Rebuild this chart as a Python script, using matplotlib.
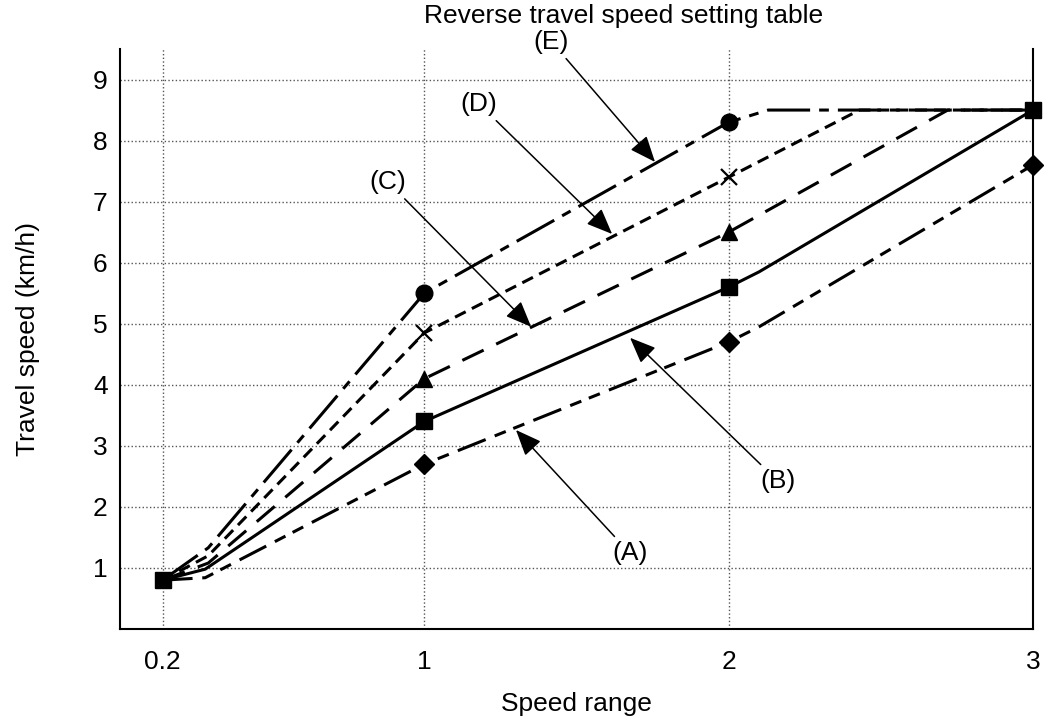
import matplotlib
matplotlib.use('Agg')
from matplotlib import pyplot as plt

plt.rcParams['font.family'] = ['Liberation Sans', 'DejaVu Sans']
plt.rcParams['lines.scale_dashes'] = False

# x axis: speed range ticks
tick_pos = [0.14, 1, 2, 3]
tick_labels = ['0.2', '1', '2', '3']

# line vertices (kinks included)
a_x = [0.14, 0.28, 1, 2, 2.1, 3]
a_y = [0.8, 0.84, 2.7, 4.7, 4.95, 7.6]
b_x = [0.14, 0.28, 1, 2, 2.1, 3]
b_y = [0.8, 0.98, 3.4, 5.6, 5.85, 8.5]
c_x = [0.14, 0.29, 1, 2, 2.72, 3]
c_y = [0.8, 1.08, 4.1, 6.5, 8.5, 8.5]
d_x = [0.14, 0.29, 1, 2, 2.43, 3]
d_y = [0.8, 1.2, 4.85, 7.4, 8.5, 8.5]
e_x = [0.14, 0.29, 1, 2, 2.13, 3]
e_y = [0.8, 1.33, 5.5, 8.3, 8.5, 8.5]

# marker points
a_mx, a_my = [1, 2, 3], [2.7, 4.7, 7.6]
b_mx, b_my = [0.14, 1, 2, 3], [0.8, 3.4, 5.6, 8.5]
c_mx, c_my = [1, 2], [4.1, 6.5]
d_mx, d_my = [1, 2], [4.85, 7.4]
e_mx, e_my = [1, 2], [5.5, 8.3]

fs = 19
fig = plt.figure(figsize=(10.44, 7.2), dpi=100)
ax = fig.add_axes([120 / 1044, 1 - 629 / 720, 913 / 1044, 580 / 720])

lw = 2.2
ax.plot(e_x, e_y, color='black', lw=lw, dashes=(31, 6.5, 7, 6.5))
ax.plot(d_x, d_y, color='black', lw=lw, dashes=(8.6, 5))
ax.plot(c_x, c_y, color='black', lw=lw, dashes=(17, 10))
ax.plot(b_x, b_y, color='black', lw=lw)
ax.plot(a_x, a_y, color='black', lw=lw, dashes=(21.6, 7, 8.6, 5.8, 8.6, 7))

ax.plot(a_mx, a_my, 'D', color='black', ms=10, zorder=5, clip_on=False)
ax.plot(c_mx, c_my, '^', color='black', ms=12, zorder=5, clip_on=False)
ax.plot(d_mx, d_my, 'x', color='black', ms=11, mew=1.6, zorder=5, clip_on=False)
ax.plot(e_mx, e_my, 'o', color='black', ms=12, zorder=5, clip_on=False)
ax.plot(b_mx, b_my, 's', color='black', ms=11.5, zorder=6, clip_on=False)

ax.set_xlim(0, 3)
ax.set_ylim(0, 9.5)
ax.set_xticks(tick_pos)
ax.set_xticklabels(tick_labels)
ax.set_yticks(range(1, 10))
ax.tick_params(length=0, labelsize=fs)
ax.tick_params(axis='x', pad=15)
ax.tick_params(axis='y', pad=9)
ax.grid(True, linestyle=':', color='#555555', lw=1)
ax.spines['top'].set_visible(False)
for s in ['left', 'bottom', 'right']:
    ax.spines[s].set_linewidth(1.5)

# labels with arrows
notes = [
    ('(E)', (1.758, 7.65), (1.418, 9.62)),
    ('(D)', (1.617, 6.47), (1.180, 8.60)),
    ('(C)', (1.351, 4.95), (0.881, 7.32)),
    ('(B)', (1.676, 4.77), (2.162, 2.42)),
    ('(A)', (1.301, 3.26), (1.676, 1.24)),
]
for lab, tip, pos in notes:
    ax.annotate(lab, xy=tip, xytext=pos, ha='center', va='center', fontsize=fs,
                annotation_clip=False,
                arrowprops=dict(arrowstyle='-|>,head_length=0.8,head_width=0.33',
                                color='black', lw=1.1, shrinkA=2, shrinkB=0,
                                mutation_scale=20))

fig.text(624 / 1044, 1 - 16 / 720, 'Reverse travel speed setting table',
         ha='center', va='center', fontsize=fs)
fig.text(576 / 1044, 1 - 704 / 720, 'Speed range', ha='center', va='center', fontsize=fs)
fig.text(28 / 1044, 1 - 339 / 720, 'Travel speed (km/h)', ha='center', va='center',
         rotation=90, fontsize=fs)

fig.savefig('out.png', dpi=100)
